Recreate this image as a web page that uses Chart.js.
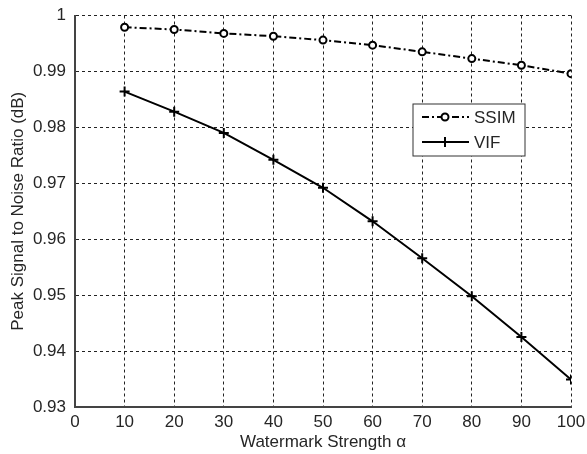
<!DOCTYPE html>
<html>
<head>
<meta charset="utf-8">
<script src="https://cdn.jsdelivr.net/npm/chart.js@4.4.1/dist/chart.umd.min.js"></script>
<style>
    body { margin: 0; background: #fff; }
    #wrap { width: 587px; height: 454px; }
</style>
</head>
<body>
<div id="wrap"><canvas id="qualityChart"></canvas></div>
<script>
// watermark strength on the x axis
const strengths = [10, 20, 30, 40, 50, 60, 70, 80, 90, 100];
const ssimValues = [0.9979, 0.9975, 0.9968, 0.9963, 0.9956, 0.9947, 0.9935, 0.9923, 0.9911, 0.9896];
const vifValues = [0.9864, 0.9828, 0.9790, 0.9742, 0.9692, 0.9632, 0.9566, 0.9498, 0.9425, 0.9349];
const xTicks = [0, 10, 20, 30, 40, 50, 60, 70, 80, 90, 100];
const yTicks = [0.93, 0.94, 0.95, 0.96, 0.97, 0.98, 0.99, 1];

const FONT = 'Liberation Sans, Arial, sans-serif';
const TEXT = '#262626';
const SSIM_DASH = [7, 3, 2, 3];

function toPoints(values) {
    return strengths.map((s, i) => ({ x: s, y: values[i] }));
}

// keep the plot box fixed: drop the extra room chart.js reserves for edge labels
function fixScale(scale, size) {
    if (scale.isHorizontal()) scale.height = size;
    else scale.width = size;
    scale.paddingTop = 0;
    scale.paddingBottom = 0;
    scale.paddingLeft = 0;
    scale.paddingRight = 0;
}

// legend box drawn inside the plot area
const boxLegend = {
    id: 'boxLegend',
    afterDatasetsDraw(chart) {
        const ctx = chart.ctx;
        const area = chart.chartArea;
        const w = 112, h = 52;
        const x = area.right - 46 - w;
        const y = area.top + 88.5;
        ctx.save();
        ctx.fillStyle = '#fff';
        ctx.fillRect(x, y, w, h);
        ctx.strokeStyle = '#333';
        ctx.lineWidth = 1;
        ctx.strokeRect(x, y, w, h);

        const rows = [
            { label: 'SSIM', dash: SSIM_DASH, style: 'circle', cy: y + 13 },
            { label: 'VIF', dash: [], style: 'cross', cy: y + 38 }
        ];
        rows.forEach(r => {
            ctx.strokeStyle = '#000';
            ctx.lineWidth = 2;
            ctx.setLineDash(r.dash);
            ctx.beginPath();
            ctx.moveTo(x + 9, r.cy);
            ctx.lineTo(x + 56, r.cy);
            ctx.stroke();
            ctx.setLineDash([]);
            ctx.fillStyle = '#fff';
            Chart.helpers.drawPoint(ctx, { pointStyle: r.style, radius: r.style === 'circle' ? 3.5 : 5, borderWidth: 2 }, x + 32, r.cy);
            ctx.fillStyle = TEXT;
            ctx.font = '17px ' + FONT;
            ctx.textBaseline = 'middle';
            ctx.fillText(r.label, x + 61, r.cy + 1);
        });
        ctx.restore();
    }
};

new Chart(document.getElementById('qualityChart'), {
    type: 'line',
    data: {
        datasets: [{
            label: 'SSIM',
            data: toPoints(ssimValues),
            borderColor: '#000',
            backgroundColor: '#fff',
            borderWidth: 2,
            borderDash: SSIM_DASH,
            pointStyle: 'circle',
            pointRadius: 3.5,
            pointBorderWidth: 2,
            pointBorderColor: '#000',
            pointBackgroundColor: '#fff',
            tension: 0
        }, {
            label: 'VIF',
            data: toPoints(vifValues),
            borderColor: '#000',
            backgroundColor: '#000',
            borderWidth: 2,
            pointStyle: 'cross',
            pointRadius: 5,
            pointBorderWidth: 2,
            pointBorderColor: '#000',
            tension: 0
        }]
    },
    options: {
        responsive: true,
        maintainAspectRatio: false,
        animation: false,
        layout: { padding: { left: 0, top: 15.5, right: 16, bottom: 0 } },
        plugins: {
            legend: { display: false },
            tooltip: { enabled: false }
        },
        scales: {
            x: {
                type: 'linear',
                min: 0,
                max: 100,
                afterBuildTicks: scale => { scale.ticks = xTicks.map(v => ({ value: v })); },
                afterFit: scale => fixScale(scale, 47),
                grid: { color: '#222', lineWidth: 1, drawTicks: false },
                border: { display: true, color: '#444', width: 2, dash: [3, 3] },
                ticks: { color: TEXT, font: { family: FONT, size: 17 }, padding: 5, maxRotation: 0 },
                title: {
                    display: true,
                    text: 'Watermark Strength α',
                    color: TEXT,
                    font: { family: FONT, size: 17 },
                    padding: { top: 0, bottom: 1 }
                }
            },
            y: {
                type: 'linear',
                min: 0.93,
                max: 1,
                afterBuildTicks: scale => { scale.ticks = yTicks.map(v => ({ value: v })); },
                afterFit: scale => fixScale(scale, 75),
                grid: { color: '#222', lineWidth: 1, drawTicks: false },
                border: { display: true, color: '#444', width: 2, dash: [3, 3] },
                ticks: {
                    color: TEXT,
                    font: { family: FONT, size: 17 },
                    padding: 9,
                    callback: v => String(Number(v.toFixed(2)))
                },
                title: {
                    display: true,
                    text: 'Peak Signal to Noise Ratio (dB)',
                    color: TEXT,
                    font: { family: FONT, size: 17 },
                    padding: { top: 8, bottom: 0 }
                }
            }
        }
    },
    plugins: [boxLegend]
});
</script>
</body>
</html>
